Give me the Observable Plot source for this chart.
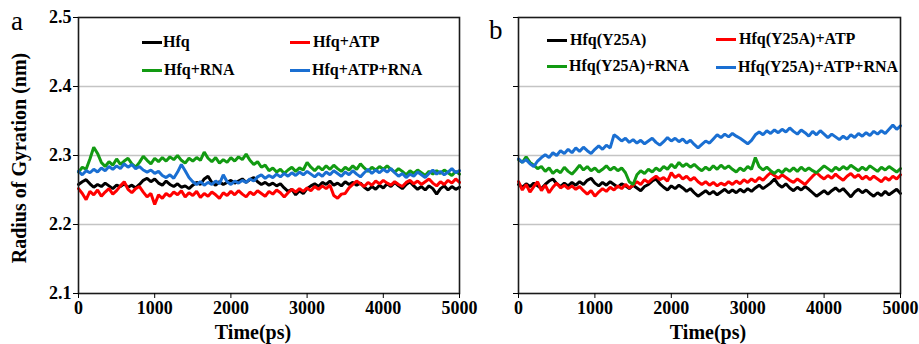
<!DOCTYPE html>
<html>
<head>
<meta charset="utf-8">
<script src="https://cdn.jsdelivr.net/npm/d3@7"></script>
<script src="https://cdn.jsdelivr.net/npm/@observablehq/plot@0.6"></script>
<style>
  html, body { margin: 0; padding: 0; background: #fff; }
  #wrap { position: relative; width: 919px; height: 344px; overflow: hidden; font-family: "Liberation Serif", "DejaVu Serif", serif; color: #000; }
  #wrap svg { position: absolute; top: 0; }
  .lbl { position: absolute; white-space: nowrap; font-weight: bold; line-height: 1; }
  .letter { position: absolute; font-weight: normal; line-height: 1; font-size: 27px; }
  .seg { position: absolute; height: 3px; width: 20px; }
  .leg { position: absolute; white-space: nowrap; font-weight: bold; font-size: 16px; line-height: 1; }
</style>
</head>
<body>
<div id="wrap"></div>
<script>
// ---------- data ----------
const xTicks = [0, 1000, 2000, 3000, 4000, 5000];
const yTicks = [2.1, 2.2, 2.3, 2.4, 2.5];
const gridY = [2.2, 2.3, 2.4];
const seriesColors = ["#000000", "#ff0000", "#129a12", "#1a6fd2"];
const namesA = ["Hfq", "Hfq+ATP", "Hfq+RNA", "Hfq+ATP+RNA"];
const namesB = ["Hfq(Y25A)", "Hfq(Y25A)+ATP", "Hfq(Y25A)+RNA", "Hfq(Y25A)+ATP+RNA"];
const timePs = d3.range(0, 5001, 50); // sampling times, ps

// Panel a
const hfq = [2.258,2.262,2.265,2.259,2.254,2.258,2.255,2.26,2.256,2.252,2.257,2.255,2.259,2.254,2.257,2.253,2.258,2.264,2.267,2.262,2.266,
2.26,2.257,2.263,2.258,2.255,2.259,2.254,2.256,2.252,2.257,2.261,2.258,2.266,2.27,2.261,2.257,2.262,2.258,2.261,2.264,
2.26,2.263,2.266,2.261,2.265,2.268,2.262,2.258,2.261,2.257,2.26,2.256,2.259,2.253,2.248,2.251,2.243,2.249,2.245,2.252,
2.256,2.259,2.255,2.261,2.258,2.263,2.257,2.26,2.256,2.262,2.258,2.261,2.257,2.26,2.254,2.25,2.255,2.251,2.257,2.253,
2.259,2.255,2.261,2.256,2.252,2.258,2.262,2.256,2.251,2.255,2.25,2.256,2.252,2.244,2.252,2.256,2.25,2.255,2.251,2.254];
const hfqATP = [2.252,2.245,2.236,2.248,2.243,2.25,2.241,2.247,2.252,2.244,2.249,2.256,2.262,2.251,2.246,2.252,2.255,2.247,2.24,2.245,2.229,
2.243,2.238,2.245,2.241,2.247,2.243,2.249,2.24,2.246,2.242,2.248,2.239,2.245,2.241,2.247,2.243,2.238,2.246,2.242,2.248,
2.243,2.249,2.244,2.24,2.247,2.243,2.249,2.245,2.241,2.248,2.244,2.25,2.246,2.24,2.246,2.251,2.247,2.252,2.248,2.253,
2.249,2.255,2.251,2.256,2.252,2.257,2.242,2.238,2.244,2.245,2.253,2.258,2.263,2.259,2.255,2.261,2.257,2.263,2.259,2.264,
2.26,2.257,2.262,2.258,2.255,2.261,2.264,2.259,2.263,2.258,2.262,2.266,2.26,2.256,2.262,2.258,2.264,2.26,2.266,2.261];
const hfqRNA = [2.276,2.283,2.28,2.295,2.312,2.303,2.29,2.284,2.291,2.286,2.295,2.287,2.292,2.296,2.288,2.283,2.29,2.299,2.293,2.288,2.296,
2.291,2.297,2.292,2.298,2.294,2.3,2.293,2.289,2.296,2.292,2.297,2.293,2.305,2.296,2.291,2.297,2.289,2.294,2.29,2.297,
2.292,2.298,2.294,2.302,2.293,2.287,2.291,2.283,2.286,2.278,2.282,2.276,2.28,2.274,2.279,2.283,2.277,2.282,2.279,2.29,
2.283,2.278,2.284,2.279,2.285,2.28,2.286,2.281,2.277,2.283,2.279,2.285,2.28,2.288,2.282,2.277,2.283,2.279,2.284,2.28,
2.285,2.28,2.276,2.281,2.277,2.272,2.278,2.274,2.279,2.275,2.271,2.277,2.273,2.278,2.274,2.279,2.275,2.271,2.277,2.273];
const hfqATPRNA = [2.277,2.272,2.278,2.275,2.28,2.276,2.282,2.278,2.284,2.28,2.285,2.281,2.288,2.283,2.287,2.281,2.284,2.279,2.276,2.279,2.274,
2.277,2.271,2.268,2.272,2.267,2.276,2.287,2.278,2.268,2.262,2.258,2.262,2.257,2.261,2.258,2.263,2.259,2.272,2.262,2.258,
2.263,2.26,2.264,2.261,2.266,2.263,2.269,2.272,2.267,2.271,2.268,2.273,2.269,2.274,2.27,2.275,2.271,2.276,2.272,2.277,
2.273,2.269,2.274,2.27,2.276,2.272,2.278,2.274,2.27,2.276,2.272,2.278,2.273,2.269,2.275,2.28,2.274,2.279,2.275,2.28,
2.276,2.281,2.275,2.27,2.274,2.268,2.273,2.27,2.276,2.272,2.268,2.274,2.279,2.273,2.277,2.272,2.276,2.281,2.275,2.278];

// Panel b
const y25a = [2.258,2.254,2.259,2.255,2.26,2.256,2.252,2.258,2.263,2.266,2.259,2.255,2.26,2.256,2.261,2.257,2.262,2.258,2.264,2.267,2.26,
2.256,2.261,2.257,2.262,2.258,2.254,2.259,2.256,2.252,2.257,2.253,2.249,2.255,2.258,2.263,2.266,2.259,2.254,2.25,2.256,
2.252,2.257,2.253,2.248,2.252,2.246,2.241,2.245,2.249,2.244,2.248,2.243,2.247,2.251,2.246,2.25,2.246,2.251,2.247,2.252,
2.248,2.253,2.257,2.252,2.256,2.26,2.266,2.258,2.254,2.259,2.253,2.249,2.254,2.25,2.255,2.251,2.246,2.241,2.245,2.249,
2.244,2.249,2.253,2.248,2.252,2.246,2.24,2.247,2.251,2.246,2.25,2.245,2.241,2.246,2.242,2.248,2.243,2.247,2.251,2.245];
const y25aATP = [2.262,2.25,2.258,2.247,2.255,2.262,2.249,2.257,2.246,2.254,2.26,2.253,2.257,2.252,2.256,2.251,2.255,2.249,2.244,2.249,2.241,
2.247,2.252,2.248,2.254,2.25,2.256,2.252,2.258,2.253,2.257,2.262,2.258,2.265,2.261,2.266,2.27,2.265,2.268,2.263,2.275,
2.268,2.272,2.266,2.27,2.264,2.268,2.262,2.258,2.262,2.257,2.261,2.256,2.26,2.257,2.262,2.258,2.263,2.259,2.265,2.261,
2.266,2.262,2.268,2.264,2.27,2.275,2.271,2.267,2.272,2.268,2.264,2.261,2.266,2.262,2.258,2.264,2.27,2.275,2.27,2.266,
2.271,2.267,2.273,2.268,2.264,2.27,2.274,2.268,2.272,2.266,2.27,2.265,2.27,2.266,2.262,2.268,2.264,2.27,2.266,2.272];
const y25aRNA = [2.294,2.29,2.298,2.29,2.286,2.281,2.284,2.277,2.282,2.274,2.279,2.275,2.283,2.277,2.273,2.279,2.286,2.279,2.284,2.278,2.282,
2.276,2.28,2.285,2.279,2.283,2.278,2.282,2.275,2.262,2.258,2.272,2.278,2.274,2.28,2.276,2.282,2.278,2.284,2.28,2.287,
2.282,2.29,2.284,2.288,2.283,2.287,2.282,2.278,2.283,2.279,2.285,2.28,2.286,2.281,2.285,2.28,2.276,2.282,2.278,2.284,
2.28,2.297,2.284,2.279,2.283,2.278,2.274,2.279,2.275,2.281,2.277,2.282,2.277,2.283,2.278,2.282,2.278,2.275,2.28,2.285,
2.281,2.277,2.283,2.279,2.284,2.28,2.286,2.282,2.278,2.283,2.279,2.285,2.281,2.277,2.283,2.279,2.284,2.28,2.276,2.281];
const y25aATPRNA = [2.295,2.29,2.294,2.288,2.284,2.292,2.297,2.301,2.297,2.304,2.3,2.307,2.303,2.309,2.304,2.311,2.306,2.312,2.307,2.303,2.309,
2.314,2.309,2.315,2.311,2.33,2.326,2.321,2.325,2.319,2.323,2.318,2.322,2.317,2.321,2.325,2.319,2.315,2.32,2.326,2.321,
2.325,2.32,2.324,2.318,2.322,2.316,2.311,2.316,2.321,2.318,2.324,2.33,2.326,2.331,2.327,2.332,2.328,2.325,2.321,2.317,
2.322,2.33,2.334,2.33,2.336,2.332,2.337,2.333,2.338,2.334,2.34,2.335,2.331,2.337,2.333,2.328,2.335,2.33,2.336,2.331,
2.326,2.331,2.327,2.323,2.328,2.324,2.33,2.326,2.332,2.328,2.333,2.329,2.335,2.331,2.336,2.332,2.338,2.344,2.338,2.343];

// ---------- build ----------
function rows(names, arrays) {
  return names.flatMap((s, i) => arrays[i].map((v, j) => ({t: timePs[j], v, s})));
}
const rowsA = rows(namesA, [hfq, hfqATP, hfqRNA, hfqATPRNA]);
const rowsB = rows(namesB, [y25a, y25aATP, y25aRNA, y25aATPRNA]);

const font = "'Liberation Serif', 'DejaVu Serif', serif";

function panel(data, names, opts) {
  return Plot.plot({
    width: opts.width, height: 344,
    marginLeft: opts.ml, marginRight: opts.mr, marginTop: 17, marginBottom: 51,
    style: {fontFamily: font, fontWeight: "bold", fontSize: "18px", background: "transparent", color: "#000", overflow: "visible"},
    x: {domain: [0, 5000]},
    y: {domain: [2.1, 2.5]},
    color: {domain: names, range: seriesColors},
    marks: [
      Plot.ruleY(gridY, {stroke: "#c4c4c4", strokeWidth: 1.5}),
      Plot.line(data, {x: "t", y: "v", z: "s", stroke: "s", strokeWidth: 3, strokeLinejoin: "miter"}),
      Plot.frame({stroke: "#1a1a1a", strokeWidth: 1.6}),
      Plot.axisY(yTicks, {tickSize: 5, tickPadding: 2, fontSize: 18, fontFamily: font, label: null,
        tickFormat: opts.yLabels ? d3.format(".1f") : () => ""}),
      Plot.axisX(xTicks, {tickSize: 5, tickPadding: 3, fontSize: 18, fontFamily: font, label: null, tickFormat: d => String(d)})
    ]
  });
}

const wrap = document.getElementById("wrap");
const svgA = panel(rowsA, namesA, {width: 470, ml: 78, mr: 11, yLabels: true});
svgA.style.left = "0px";
wrap.appendChild(svgA);
const svgB = panel(rowsB, namesB, {width: 449, ml: 48, mr: 19, yLabels: false});
svgB.style.left = "470px";
wrap.appendChild(svgB);

function addDiv(cls, text, css) {
  const d = document.createElement("div");
  d.className = cls;
  if (text) d.textContent = text;
  Object.assign(d.style, css);
  wrap.appendChild(d);
  return d;
}

// panel letters
addDiv("letter", "a", {left: "11px", top: "8px"});
addDiv("letter", "b", {left: "489px", top: "17px"});

// axis titles
addDiv("lbl", "Time(ps)", {left: "253px", top: "322px", fontSize: "20px", transform: "translateX(-50%)"});
addDiv("lbl", "Time(ps)", {left: "708px", top: "322px", fontSize: "20px", transform: "translateX(-50%)"});
addDiv("lbl", "Radius of Gyration (nm)", {left: "19px", top: "158px", fontSize: "20px",
  transform: "translate(-50%, -50%) rotate(-90deg)"});

// legends
const legA = [[142, 42, 163], [290, 42, 313], [142, 70, 164], [290, 70, 312]];
const legB = [[547, 40, 570], [716, 39, 739], [547, 66, 569], [716, 67, 738]];
function legend(names, pos) {
  names.forEach((n, i) => {
    const [sx, cy, tx] = pos[i];
    addDiv("seg", "", {left: sx + "px", top: (cy - 1.5) + "px", background: seriesColors[i]});
    addDiv("leg", n, {left: tx + "px", top: (cy - 8.5) + "px"});
  });
}
legend(namesA, legA);
legend(namesB, legB);
</script>
</body>
</html>
